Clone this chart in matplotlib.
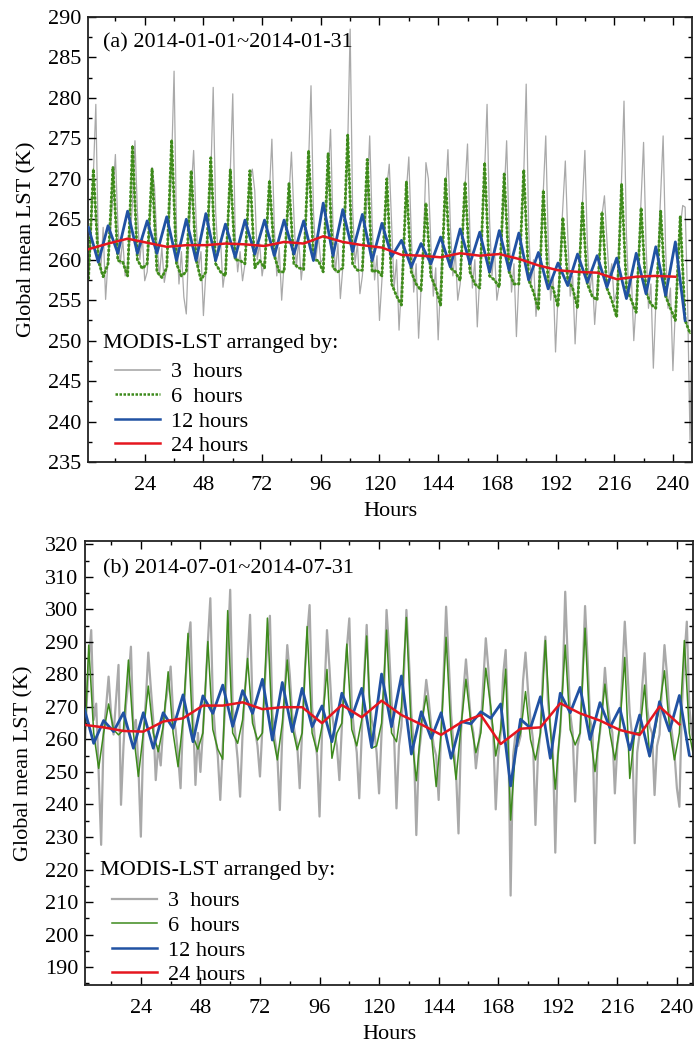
import numpy as np
import matplotlib
matplotlib.use('Agg')
import matplotlib.pyplot as plt
from matplotlib.ticker import MultipleLocator

plt.rcParams['font.family'] = ['Liberation Serif', 'DejaVu Serif']
plt.rcParams['font.size'] = 16

# positions on the "Hours" axis (3-hourly index)
steps_3h = np.arange(1, 249)
steps_6h = np.arange(1, 248, 2)
steps_12h = np.arange(1, 246, 4)
steps_24h = np.arange(1, 242, 8)

# ---- (a) 2014-01 ----  one row = one day (8 values for 3h, 4 for 6h)
jan_3h = [
    [257.5, 263.0, 270.5, 279.2, 262.0, 258.5, 264.0, 255.1],
    [260.0, 263.5, 268.0, 273.0, 264.5, 259.5, 262.5, 258.0],
    [259.5, 262.5, 267.0, 274.7, 266.0, 260.0, 263.0, 257.4],
    [258.5, 263.0, 271.4, 269.0, 262.0, 258.0, 261.5, 257.2],
    [259.0, 264.0, 272.0, 283.3, 263.5, 257.0, 261.0, 255.4],
    [253.3, 262.0, 268.5, 273.5, 265.0, 259.0, 261.0, 253.1],
    [258.5, 263.5, 270.0, 281.3, 266.0, 260.5, 262.5, 256.6],
    [259.0, 264.0, 271.0, 280.5, 263.0, 258.5, 261.0, 257.4],
    [259.5, 264.5, 270.0, 271.2, 268.5, 260.0, 262.0, 258.0],
    [260.0, 263.5, 268.5, 274.9, 264.0, 258.0, 261.5, 255.0],
    [259.5, 263.0, 268.0, 273.3, 265.5, 259.0, 262.5, 257.5],
    [260.5, 265.5, 272.0, 281.5, 266.0, 260.0, 263.0, 259.7],
    [260.0, 264.0, 270.5, 276.1, 264.0, 258.5, 262.0, 255.2],
    [259.0, 265.0, 274.0, 288.5, 266.5, 259.5, 262.0, 255.8],
    [258.0, 263.0, 268.0, 275.3, 264.5, 257.5, 260.5, 252.5],
    [257.5, 263.0, 269.0, 271.8, 264.0, 256.5, 260.0, 251.3],
    [257.0, 262.5, 268.5, 272.7, 263.0, 256.0, 259.5, 250.3],
    [256.5, 262.0, 272.0, 270.0, 262.0, 255.5, 259.0, 250.1],
    [257.5, 263.0, 268.0, 273.6, 264.0, 258.0, 261.0, 255.0],
    [257.0, 262.5, 269.0, 274.3, 263.0, 256.5, 260.0, 251.7],
    [258.0, 264.0, 271.0, 279.2, 265.0, 258.0, 261.5, 255.0],
    [257.0, 262.5, 268.0, 274.7, 263.5, 256.0, 259.5, 250.5],
    [257.5, 263.5, 270.5, 281.7, 264.0, 257.0, 260.0, 253.0],
    [256.5, 262.0, 268.5, 275.3, 262.5, 255.0, 258.0, 248.6],
    [255.5, 261.0, 266.5, 272.2, 263.0, 255.5, 258.0, 249.6],
    [256.0, 261.5, 267.0, 273.5, 262.0, 256.0, 258.5, 252.0],
    [256.5, 261.0, 265.5, 267.9, 262.5, 257.5, 259.5, 254.8],
    [256.0, 262.5, 270.0, 279.6, 263.0, 255.5, 258.0, 250.0],
    [255.0, 261.0, 267.5, 274.5, 262.0, 254.0, 257.0, 246.6],
    [254.5, 261.0, 268.0, 275.3, 261.5, 254.0, 256.5, 246.3],
    [254.0, 260.0, 264.0, 266.7, 266.5, 255.0, 237.7, 255.8],
]
jan_6h = [
    [257.6, 271.2, 259.9, 257.9], [259.5, 271.4, 259.9, 259.7],
    [258.0, 274.1, 260.0, 258.9], [259.5, 271.2, 258.5, 257.8],
    [259.0, 274.8, 259.5, 258.0], [258.5, 271.0, 260.0, 257.5],
    [258.5, 272.6, 259.5, 258.5], [258.0, 271.1, 260.0, 259.9],
    [259.5, 271.0, 259.0, 259.9], [259.0, 269.8, 260.5, 258.5],
    [258.5, 269.4, 259.5, 259.0], [258.8, 273.5, 260.0, 259.9],
    [258.5, 273.1, 259.0, 258.5], [259.0, 275.4, 259.5, 258.7],
    [258.7, 272.4, 258.5, 258.7], [258.0, 270.0, 257.0, 255.5],
    [254.4, 269.6, 258.5, 257.0], [256.2, 267.0, 258.0, 256.5],
    [254.4, 270.1, 259.0, 258.5], [257.4, 269.6, 258.5, 257.0],
    [256.5, 272.0, 258.0, 257.5], [256.6, 270.6, 258.5, 257.0],
    [257.0, 271.1, 257.5, 256.0], [253.8, 268.6, 257.0, 256.5],
    [254.2, 265.2, 257.5, 256.5], [254.0, 267.0, 257.0, 255.5],
    [255.0, 265.9, 256.5, 255.0], [252.9, 269.4, 256.5, 255.0],
    [253.5, 266.4, 256.0, 254.5], [254.0, 266.0, 255.5, 254.0],
    [252.5, 265.3, 252.5, 250.9],
]
jan_12h = [264.0, 259.7, 264.2, 260.8, 266.0, 260.8, 264.8, 260.8, 265.3, 259.9, 265.0, 259.9,
           265.7, 259.9, 264.4, 260.3, 264.9, 260.7, 264.9, 260.5, 264.9, 260.7, 264.8, 259.9,
           267.0, 260.5, 266.2, 261.0, 265.6, 259.9, 264.5, 260.4, 262.4, 259.1, 262.0, 259.5,
           262.8, 259.1, 263.8, 259.5, 263.4, 258.5, 263.6, 258.7, 263.3, 257.5, 260.9, 256.4,
           259.6, 256.8, 260.7, 257.2, 260.5, 256.6, 260.2, 255.2, 260.8, 255.8, 261.6, 255.6,
           262.2, 252.5]
jan_24h = [261.3, 262.0, 262.6, 262.1, 261.6, 261.8, 261.8, 262.0, 261.9, 261.7, 262.2,
           262.0, 262.9, 262.2, 261.8, 261.5, 260.6, 260.5, 260.3, 260.8, 260.5, 260.7,
           260.1, 259.3, 258.7, 258.5, 258.4, 257.6, 257.9, 258.0, 257.9]

# ---- (b) 2014-07 ----
jul_3h = [
    [251.0, 268.0, 284.0, 293.6, 266.0, 271.0, 250.0, 227.6],
    [262.0, 270.0, 279.3, 268.0, 261.5, 272.0, 282.9, 239.9],
    [258.0, 270.5, 278.0, 288.5, 262.5, 266.0, 252.0, 230.1],
    [261.0, 272.0, 286.7, 276.0, 266.0, 247.5, 258.0, 252.0],
    [264.0, 271.5, 276.0, 282.4, 268.0, 263.0, 255.0, 245.0],
    [266.0, 278.0, 290.0, 296.0, 268.5, 246.0, 262.0, 250.0],
    [262.5, 275.0, 290.0, 303.4, 272.0, 261.0, 255.0, 241.4],
    [258.0, 270.0, 288.0, 306.0, 270.0, 262.0, 254.0, 242.4],
    [262.0, 275.5, 285.0, 298.3, 270.0, 263.0, 258.0, 248.6],
    [264.0, 278.0, 290.0, 298.0, 268.0, 260.0, 255.0, 238.3],
    [262.0, 275.0, 289.0, 280.0, 267.5, 262.0, 258.5, 245.0],
    [263.0, 280.0, 292.0, 301.3, 270.0, 261.0, 255.0, 236.3],
    [262.0, 275.0, 293.6, 282.0, 268.0, 262.5, 258.0, 247.5],
    [264.0, 278.0, 288.0, 297.2, 270.0, 262.0, 256.0, 241.9],
    [261.5, 280.0, 295.2, 274.0, 266.0, 263.0, 256.0, 243.4],
    [262.0, 275.0, 299.8, 288.0, 272.0, 262.0, 238.8, 258.0],
    [264.0, 280.0, 299.8, 285.0, 268.0, 258.0, 230.6, 255.0],
    [262.0, 270.0, 278.3, 272.0, 264.0, 258.0, 255.0, 241.4],
    [262.5, 280.0, 300.8, 285.0, 268.0, 258.0, 250.0, 231.1],
    [262.0, 275.0, 284.6, 275.0, 266.0, 262.0, 251.1, 258.0],
    [264.0, 278.0, 291.1, 282.0, 268.0, 261.5, 238.5, 255.0],
    [262.0, 280.0, 287.5, 266.0, 212.0, 255.0, 262.0, 258.0],
    [261.0, 278.0, 286.7, 275.0, 266.0, 260.0, 233.7, 255.0],
    [262.0, 280.0, 291.6, 272.0, 264.0, 258.0, 225.2, 255.0],
    [262.5, 278.0, 305.4, 285.0, 268.0, 262.0, 240.9, 258.0],
    [262.0, 280.0, 301.0, 285.0, 266.0, 263.0, 228.1, 256.0],
    [262.0, 270.0, 282.0, 272.0, 266.0, 262.0, 243.4, 258.0],
    [264.0, 280.0, 296.2, 282.0, 268.0, 261.0, 228.1, 256.0],
    [262.0, 276.0, 286.5, 270.0, 264.0, 262.0, 242.9, 258.0],
    [261.5, 276.0, 289.0, 280.0, 268.0, 262.0, 256.0, 245.0],
    [239.3, 270.0, 285.0, 296.2, 270.0, 262.0, 258.0, 262.0],
]
jul_6h = [
    [252.0, 289.0, 262.0, 251.1], [262.0, 270.9, 263.0, 261.4],
    [263.0, 284.4, 262.0, 248.6], [262.0, 276.4, 262.0, 256.2],
    [264.0, 280.8, 262.0, 251.6], [266.0, 292.6, 261.0, 257.0],
    [262.0, 290.1, 263.0, 257.0], [253.9, 299.6, 262.0, 258.8],
    [266.0, 284.9, 265.0, 259.8], [262.0, 297.3, 262.0, 253.7],
    [265.0, 284.4, 264.0, 256.8], [262.0, 294.7, 262.0, 256.2],
    [264.0, 281.5, 254.2, 262.0], [265.0, 289.3, 263.0, 258.0],
    [266.0, 291.8, 257.3, 258.0], [265.0, 293.6, 262.0, 259.3],
    [270.0, 297.5, 262.0, 247.3], [265.0, 273.4, 262.0, 245.5],
    [262.0, 291.4, 262.0, 247.7], [264.0, 278.5, 265.0, 255.9],
    [262.0, 281.9, 270.0, 254.9], [263.0, 281.6, 235.2, 257.3],
    [262.0, 274.7, 260.0, 253.7], [262.0, 290.4, 263.0, 244.7],
    [264.0, 289.0, 263.0, 258.3], [262.0, 294.2, 262.0, 250.1],
    [263.0, 277.0, 262.0, 253.7], [264.0, 285.2, 248.0, 262.0],
    [262.0, 276.7, 254.7, 262.0], [270.0, 281.1, 264.0, 253.7],
    [262.0, 290.4, 262.0, 253.7],
]
jul_12h = [270.1, 258.8, 265.8, 262.4, 268.2, 257.3, 268.2, 257.3, 268.2, 263.4, 273.7, 259.3,
           273.4, 268.0, 276.7, 264.0, 275.0, 268.0, 278.5, 259.8, 277.5, 262.4, 275.7, 263.9,
           270.3, 259.3, 274.2, 266.8, 275.7, 257.6, 280.1, 263.9, 279.5, 255.5, 268.5, 260.3,
           268.2, 254.2, 265.5, 264.8, 268.5, 266.5, 270.9, 245.7, 266.2, 263.5, 273.1, 254.2,
           274.2, 268.2, 276.0, 260.0, 271.3, 263.6, 269.6, 256.8, 267.5, 254.9, 271.6, 262.6,
           273.5, 255.2]
jul_24h = [264.5, 263.7, 262.6, 262.4, 265.5, 266.5, 270.4, 270.4, 271.4, 269.3, 269.9,
           269.9, 265.0, 270.6, 266.8, 271.9, 267.5, 264.6, 261.4, 265.2, 267.5, 258.6,
           263.3, 263.7, 271.1, 268.0, 265.8, 262.9, 261.4, 270.1, 264.6]

series_labels = ['3  hours', '6  hours', '12 hours', '24 hours']

GRAY = '#a9a9a9'
GREEN = '#3d8a1c'
BLUE = '#2152a3'
RED = '#e5161f'

fig = plt.figure(figsize=(6.94, 10.47), dpi=100)
ax_a = fig.add_axes([0.1268, 0.5587, 0.8703, 0.4251])
ax_b = fig.add_axes([0.1225, 0.0592, 0.8761, 0.4241])


def style_axes(ax, ylim, ymajor, yminor, xlim):
    ax.set_xlim(*xlim)
    ax.set_ylim(*ylim)
    ax.xaxis.set_major_locator(MultipleLocator(24))
    ax.xaxis.set_minor_locator(MultipleLocator(12))
    ax.yaxis.set_major_locator(MultipleLocator(ymajor))
    ax.yaxis.set_minor_locator(MultipleLocator(yminor))
    ax.tick_params(which='both', direction='in', top=True, right=True,
                   labelsize=16, width=1.0)
    ax.tick_params(axis='x', pad=10)
    ax.tick_params(axis='y', pad=5)
    ax.tick_params(which='major', length=6)
    ax.tick_params(which='minor', length=3)
    for s in ax.spines.values():
        s.set_linewidth(1.3)
        s.set_color('#222222')
    ax.set_xlabel('Hours', fontsize=16, labelpad=5)
    ax.set_ylabel('Global mean LST (K)', fontsize=16, labelpad=8)


def add_legend(ax, handles, title_y, leg_top, title_x, leg_x):
    ax.text(title_x, title_y, 'MODIS-LST arranged by:', transform=ax.transAxes,
            ha='left', va='center', fontsize=16)
    ax.legend(handles, series_labels, loc='upper left', bbox_to_anchor=(leg_x, leg_top),
              frameon=False, fontsize=16, handlelength=2.0, handletextpad=0.5,
              labelspacing=0.18, borderpad=0, borderaxespad=0)


# panel (a): 6h line has a dotted texture
ax_a.plot(steps_3h, np.concatenate(jan_3h), color=GRAY, lw=0.9, zorder=1)
ax_a.plot(steps_6h, np.concatenate(jan_6h), color='#5aa02c', lw=1.0, zorder=2)
ax_a.plot(steps_6h, np.concatenate(jan_6h), color=GREEN, lw=2.0, ls=(0, (1, 0.6)), zorder=2)
ax_a.plot(steps_12h, jan_12h, color=BLUE, lw=2.0, zorder=3)
ax_a.plot(steps_24h, jan_24h, color=RED, lw=1.8, zorder=4)
style_axes(ax_a, (235, 290), 5, 2.5, (0.8, 247.8))
ax_a.text(0.025, 0.963, '(a) 2014-01-01~2014-01-31', transform=ax_a.transAxes,
          ha='left', va='top', fontsize=16)
h_a = [plt.Line2D([], [], color=GRAY, lw=1.2),
       plt.Line2D([], [], color=GREEN, lw=1.8, ls=(0, (1, 0.6))),
       plt.Line2D([], [], color=BLUE, lw=1.8),
       plt.Line2D([], [], color=RED, lw=1.8)]
add_legend(ax_a, h_a, 0.267, 0.225, 0.025, 0.045)

# panel (b)
ax_b.plot(steps_3h, np.concatenate(jul_3h), color=GRAY, lw=1.6, zorder=1)
ax_b.plot(steps_6h, np.concatenate(jul_6h), color=GREEN, lw=1.1, zorder=2)
ax_b.plot(steps_12h, jul_12h, color=BLUE, lw=2.0, zorder=3)
ax_b.plot(steps_24h, jul_24h, color=RED, lw=1.8, zorder=4)
style_axes(ax_b, (184.5, 321), 10, 5, (1.5, 246.5))
ax_b.text(0.03, 0.96, '(b) 2014-07-01~2014-07-31', transform=ax_b.transAxes,
          ha='left', va='top', fontsize=16)
h_b = [plt.Line2D([], [], color=GRAY, lw=1.6),
       plt.Line2D([], [], color=GREEN, lw=1.1),
       plt.Line2D([], [], color=BLUE, lw=1.8),
       plt.Line2D([], [], color=RED, lw=1.8)]
add_legend(ax_b, h_b, 0.259, 0.212, 0.025, 0.045)

fig.savefig('out.png', dpi=100)
